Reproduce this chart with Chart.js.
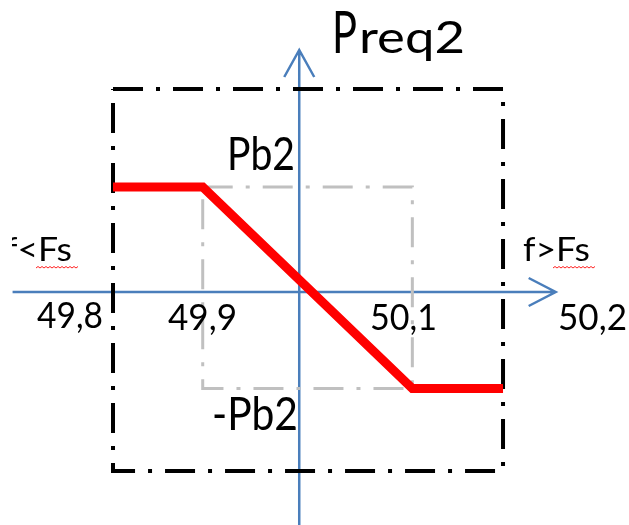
<!DOCTYPE html>
<html>
<head>
<meta charset="utf-8">
<script src="https://cdn.jsdelivr.net/npm/chart.js@4"></script>
<style>
  html, body { margin: 0; padding: 0; background: #fff; }
  #c { display: block; }
</style>
</head>
<body>
<canvas id="c" width="629" height="525"></canvas>
<script>
// values
const fBreaks = [49.8, 49.892, 50.107, 50.2];   // frequency at the red curve corners
const pReq = [1.05, 1.05, -0.965, -0.965];       // Preq2 at those corners (Pb2 = ~1)
const outerF = [49.8, 50.2];
const outerP = [2.03, -1.79];
const innerF = [49.892, 50.107];
const innerP = [1.05, -0.965];
const tickLabels = ['49,8', '49,9', '50,1', '50,2'];
const axisF = 49.991;                              // where the vertical axis crosses
const axisFRange = [49.697, 50.254];
const axisPRange = [-2.33, 2.42];

function box(fs, ps) {
  return [
    {x: fs[0], y: ps[0]}, {x: fs[1], y: ps[0]},
    {x: fs[1], y: ps[1]}, {x: fs[0], y: ps[1]}, {x: fs[0], y: ps[0]}
  ];
}

const curve = fBreaks.map((f, i) => ({x: f, y: pReq[i]}));

// squeeze text so it looks like the narrow original font
function txt(ctx, s, x, y, size, w) {
  ctx.font = size + 'px Lato';
  const m = ctx.measureText(s).width;
  ctx.save();
  ctx.translate(x, y);
  ctx.scale(w / m, 1);
  ctx.fillText(s, 0, 0);
  ctx.restore();
}

function wavy(ctx, x0, x1, y) {
  ctx.save();
  ctx.strokeStyle = '#ff2020';
  ctx.lineWidth = 1;
  ctx.beginPath();
  let up = true;
  ctx.moveTo(x0, y);
  for (let x = x0 + 2; x <= x1; x += 2) {
    ctx.lineTo(x, up ? y - 1.5 : y);
    up = !up;
  }
  ctx.stroke();
  ctx.restore();
}

const axesPlugin = {
  id: 'axes',
  beforeDatasetsDraw(chart) {
    const ctx = chart.ctx, sx = chart.scales.x, sy = chart.scales.y;
    const y0 = sy.getPixelForValue(0), x0 = sx.getPixelForValue(axisF);
    const xa = sx.getPixelForValue(axisFRange[0]), xb = sx.getPixelForValue(axisFRange[1]);
    const ya = sy.getPixelForValue(axisPRange[0]), yb = sy.getPixelForValue(axisPRange[1]);
    ctx.save();
    ctx.strokeStyle = '#4a7ebb';
    ctx.lineWidth = 2.5;
    ctx.beginPath();
    ctx.moveTo(xa, y0); ctx.lineTo(xb, y0);
    ctx.moveTo(xb - 27, y0 - 14); ctx.lineTo(xb, y0); ctx.lineTo(xb - 27, y0 + 14);
    ctx.moveTo(x0, ya); ctx.lineTo(x0, yb);
    ctx.moveTo(x0 - 15, yb + 27); ctx.lineTo(x0, yb); ctx.lineTo(x0 + 15, yb + 27);
    ctx.stroke();
    ctx.restore();
  },
  afterDraw(chart) {
    const ctx = chart.ctx;
    ctx.save();
    ctx.fillStyle = '#000';
    ctx.textBaseline = 'alphabetic';
    txt(ctx, 'P', 332, 53, 58, 25);
    txt(ctx, 'req2', 359, 53, 44, 106);
    txt(ctx, 'Pb2', 227, 170, 46, 68);
    txt(ctx, '-Pb2', 212, 430, 46, 86);
    txt(ctx, tickLabels[0], 37, 328, 36, 66);
    txt(ctx, tickLabels[1], 168, 330, 36, 69);
    txt(ctx, tickLabels[2], 370, 330, 36, 67);
    txt(ctx, tickLabels[3], 558, 330, 36, 69);
    ctx.save();
    ctx.beginPath();
    ctx.rect(12, 0, 629, 525);
    ctx.clip();
    txt(ctx, 'f<Fs', 5, 261, 32, 67);
    ctx.restore();
    txt(ctx, 'f>Fs', 523, 261, 32, 67);
    wavy(ctx, 36, 78, 268);
    wavy(ctx, 553, 595, 268);
    ctx.restore();
  }
};

new Chart(document.getElementById('c'), {
  type: 'scatter',
  data: {
    datasets: [
      {
        data: curve, showLine: true, borderColor: '#ff0000', borderWidth: 9,
        borderCapStyle: 'butt', borderJoinStyle: 'miter', pointRadius: 0, order: 0
      },
      {
        data: box(innerF, innerP), showLine: true, borderColor: '#c0c0c0', borderWidth: 3,
        borderDash: [30, 13, 4, 13], pointRadius: 0, order: 2
      },
      {
        data: box(outerF, outerP), showLine: true, borderColor: '#000000', borderWidth: 4,
        borderDash: [30, 13, 4, 13], pointRadius: 0, order: 3
      }
    ]
  },
  options: {
    responsive: false,
    animation: false,
    events: [],
    layout: { padding: 0 },
    plugins: { legend: { display: false }, tooltip: { enabled: false } },
    scales: {
      x: { type: 'linear', min: 49.6841, max: 50.3292, display: false },
      y: { type: 'linear', min: -2.33, max: 2.92, display: false }
    }
  },
  plugins: [axesPlugin]
});
</script>
</body>
</html>
